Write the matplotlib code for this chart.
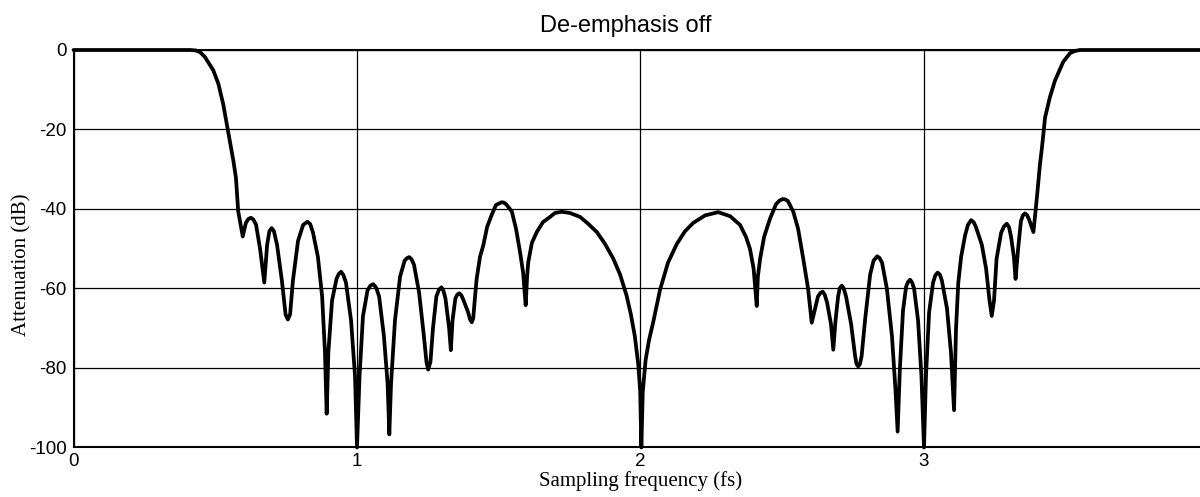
import matplotlib
matplotlib.use("Agg")
import matplotlib.pyplot as plt

# ---- data ----
freq = [
    0.0, 0.411, 0.430, 0.446, 0.464, 0.493, 0.511, 0.528, 0.546, 0.564, 0.573, 0.581, 0.597, 0.608, 0.617, 0.626, 0.635, 0.644, 0.658, 0.673,
    0.683, 0.691, 0.699, 0.707, 0.718, 0.735, 0.748, 0.756, 0.764, 0.774, 0.792, 0.810, 0.825, 0.835, 0.845, 0.862, 0.877, 0.887, 0.893, 0.899,
    0.912, 0.928, 0.936, 0.944, 0.952, 0.961, 0.979, 0.993, 1.000, 1.009, 1.021, 1.037, 1.047, 1.057, 1.067, 1.078, 1.095, 1.108, 1.114, 1.120,
    1.134, 1.152, 1.168, 1.176, 1.184, 1.192, 1.201, 1.219, 1.236, 1.245, 1.251, 1.259, 1.268, 1.280, 1.289, 1.298, 1.305, 1.312, 1.325, 1.331,
    1.337, 1.347, 1.354, 1.361, 1.368, 1.376, 1.392, 1.399, 1.405, 1.410, 1.414, 1.422, 1.434, 1.446, 1.459, 1.475, 1.490, 1.510, 1.518, 1.526,
    1.546, 1.561, 1.575, 1.586, 1.595, 1.600, 1.604, 1.617, 1.634, 1.656, 1.681, 1.698, 1.722, 1.751, 1.787, 1.815, 1.846, 1.875, 1.904, 1.928,
    1.951, 1.966, 1.980, 1.992, 1.999, 2.003, 2.008, 2.018, 2.030, 2.045, 2.069, 2.097, 2.128, 2.157, 2.186, 2.228, 2.274, 2.316, 2.351, 2.372,
    2.386, 2.399, 2.410, 2.414, 2.422, 2.436, 2.457, 2.478, 2.490, 2.502, 2.511, 2.520, 2.539, 2.556, 2.574, 2.591, 2.604, 2.616, 2.626, 2.635,
    2.643, 2.650, 2.658, 2.672, 2.680, 2.688, 2.697, 2.703, 2.710, 2.717, 2.725, 2.743, 2.757, 2.762, 2.768, 2.774, 2.780, 2.792, 2.810, 2.822,
    2.835, 2.843, 2.852, 2.869, 2.887, 2.899, 2.907, 2.915, 2.926, 2.937, 2.944, 2.951, 2.958, 2.965, 2.979, 2.991, 3.000, 3.007, 3.018, 3.032,
    3.040, 3.048, 3.056, 3.063, 3.081, 3.095, 3.106, 3.113, 3.121, 3.131, 3.145, 3.155, 3.166, 3.175, 3.183, 3.204, 3.219, 3.231, 3.239, 3.247,
    3.256, 3.272, 3.282, 3.292, 3.300, 3.307, 3.317, 3.323, 3.332, 3.342, 3.349, 3.356, 3.363, 3.370, 3.386, 3.398, 3.409, 3.416, 3.427, 3.444,
    3.462, 3.491, 3.515, 3.530, 3.550, 4.0,
]

atten_db = [
    0, 0, -0.1, -0.5, -1.8, -5.1, -8.5, -13.6, -20.8, -27.9, -32.2, -40.6, -46.9, -43.5, -42.5, -42.2, -42.7, -44, -50, -58.5,
    -49, -45.6, -44.8, -45.6, -49, -58, -66.5, -67.8, -66.5, -58, -48, -44, -43.2, -43.8, -46, -52, -62, -76, -91.5, -76,
    -63, -57.5, -56.3, -55.8, -56.6, -58.5, -68, -82, -100, -82, -67, -60.5, -59.3, -58.9, -59.7, -62, -72, -84, -96.7, -84,
    -68, -57, -53, -52.4, -52.1, -52.6, -54, -61, -72, -78.5, -80.4, -78.5, -70, -62, -60.3, -59.7, -60.6, -62.5, -70, -75.5,
    -68, -62.5, -61.5, -61.2, -61.7, -63, -66, -67.8, -68.5, -67.5, -64, -57.6, -52, -49, -44.5, -41.5, -39, -38.3, -38.4, -38.8,
    -40.6, -45, -50.8, -56, -64.2, -57, -53.4, -48.5, -45.8, -43.3, -42, -41, -40.7, -41, -42, -43.7, -45.8, -48.8, -52.5, -56.5,
    -61.8, -66.5, -72, -79, -86, -100, -86, -78, -73, -68.4, -60.3, -53.5, -48.8, -45.6, -43.5, -41.6, -40.8, -41.8, -44, -47,
    -50, -55, -64.4, -57, -52.5, -47, -42.4, -38.8, -37.9, -37.5, -37.6, -38, -40.7, -45, -52.5, -60, -68.6, -65, -62, -61.1,
    -60.8, -61.6, -63.5, -69, -75.4, -68, -62, -59.9, -59.3, -60, -62, -69, -77, -79, -79.6, -79, -77, -68, -56.5, -53,
    -51.9, -52.3, -53.5, -60, -72, -85, -96, -80, -65.5, -59.5, -58.3, -57.8, -58.5, -60, -68, -82, -100, -82, -66, -58.5,
    -56.7, -56, -56.5, -58, -65, -76, -90.6, -70, -58.5, -52, -46.6, -44, -42.8, -43.3, -44.5, -49, -55, -63, -66.9, -63,
    -52.5, -46, -44.4, -43.7, -44.6, -47, -52, -57.6, -50, -43, -41.6, -41.1, -41.5, -42.5, -45.8, -37.3, -28.8, -24.6, -17, -11.9,
    -7.7, -3.0, -0.8, -0.3, 0, 0,
]

x_ticks = [0, 1, 2, 3]
y_ticks = [0, -20, -40, -60, -80, -100]

title = "De-emphasis off"
xlabel = "Sampling frequency (fs)"
ylabel = "Attenuation (dB)"

# ---- figure ----
fig = plt.figure(figsize=(12, 4.97), dpi=100)
ax = fig.add_axes([0.06125, 0.0996, 0.945, 0.7998])

ax.plot(freq, atten_db, color="black", linewidth=2.7, clip_on=False,
        solid_joinstyle="round", solid_capstyle="round", zorder=3)

ax.set_xlim(0, 4)
ax.set_ylim(-100, 0)
ax.set_xticks(x_ticks)
ax.set_yticks(y_ticks)
ax.set_xticklabels([str(v) for v in x_ticks], family="Liberation Sans", fontsize=13.5)
ax.set_yticklabels([str(v) for v in y_ticks], family="Liberation Sans", fontsize=13.5)
ax.tick_params(axis="both", length=0, colors="black")
ax.tick_params(axis="x", pad=4)
ax.tick_params(axis="y", pad=5)

ax.grid(True, color="black", linewidth=0.9)
ax.set_axisbelow(True)

for side in ["left", "bottom", "top"]:
    ax.spines[side].set_linewidth(1.5)
    ax.spines[side].set_color("black")
ax.spines["right"].set_visible(False)

ax.set_xlabel(xlabel, family="Liberation Serif", fontsize=15)
ax.xaxis.label.set_va("center")
ax.xaxis.set_label_coords(0.5, -0.084)
ax.set_ylabel(ylabel, family="Liberation Serif", fontsize=15)
ax.yaxis.label.set_va("center")
ax.yaxis.set_label_coords(-0.0454, 0.459)

fig.text(626 / 1200, 1 - 26 / 497, title, family="Liberation Sans",
         fontsize=17, ha="center", va="center")

fig.savefig("out.png", dpi=100)
